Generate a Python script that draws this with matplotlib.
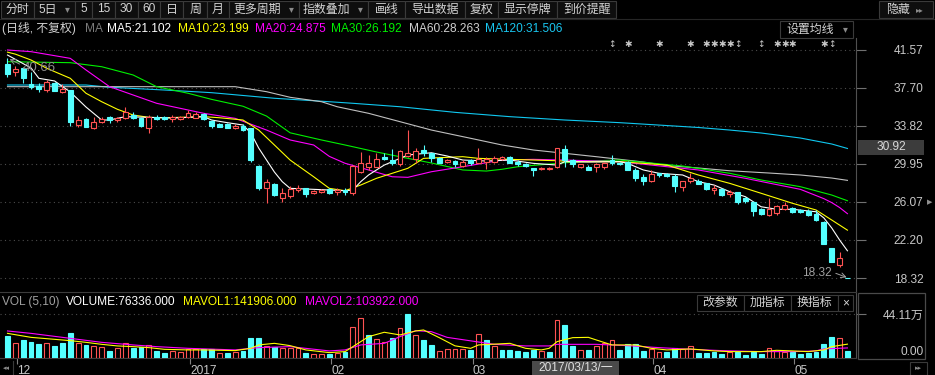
import numpy as np
import matplotlib
matplotlib.use("Agg")
import matplotlib.pyplot as plt
import matplotlib.transforms as mtrans
from matplotlib.patches import Rectangle

plt.rcParams['font.family'] = ['Liberation Sans', 'Noto Sans CJK SC', 'DejaVu Sans']

# ---------------- daily candles, 2016-11-30 .. 2017-05-11 ----------------
opens = [40.10, 39.30, 39.65, 38.03, 37.89, 37.45, 38.13, 37.28, 37.45, 33.92,
         34.47, 33.62, 34.23, 34.74, 34.40, 34.56, 34.96, 34.65, 33.56, 34.74,
         34.67, 34.50, 34.50, 34.74, 34.63, 34.97, 34.33, 33.96, 33.96, 33.55,
         33.82, 33.55, 29.72, 27.45, 27.89, 26.43, 26.70, 27.28, 27.45, 26.97,
         27.10, 27.35, 27.07, 27.30, 26.97, 29.14, 29.65, 29.65, 30.60, 30.33,
         29.89, 30.74, 30.40, 31.35, 31.01, 30.57, 30.13, 30.23, 29.72, 30.33,
         30.06, 30.16, 30.16, 30.45, 30.60, 30.16, 29.92, 29.55, 29.38, 29.38,
         29.65, 31.42, 30.33, 29.65, 29.65, 29.65, 29.65, 30.33, 30.00, 30.16,
         29.30, 28.63, 28.20, 29.00, 28.95, 28.70, 27.62, 28.22, 28.20, 27.96,
         27.28, 27.38, 26.84, 27.04, 26.50, 26.09, 25.32, 24.74, 24.97, 25.40,
         25.48, 25.25, 25.14, 24.80, 24.06, 21.40, 19.65, 18.32]
highs = [40.66, 39.89, 39.82, 39.28, 38.13, 38.47, 38.30, 38.03, 37.50, 34.81,
         34.60, 34.74, 34.70, 34.80, 34.74, 35.77, 35.24, 34.74, 34.90, 34.90,
         34.80, 34.90, 34.80, 35.42, 35.24, 35.15, 34.40, 34.10, 34.06, 33.96,
         33.96, 33.60, 29.80, 28.37, 27.96, 27.50, 27.65, 27.75, 27.50, 27.30,
         27.38, 27.45, 27.45, 27.45, 29.82, 31.17, 30.84, 31.00, 31.00, 31.42,
         31.40, 33.38, 31.60, 31.86, 31.07, 30.60, 30.40, 30.33, 30.33, 30.40,
         31.60, 30.67, 30.74, 30.70, 30.74, 30.33, 30.00, 29.55, 29.65, 29.65,
         31.52, 31.86, 30.40, 29.96, 29.80, 29.99, 30.16, 30.84, 30.10, 30.20,
         29.48, 28.90, 29.30, 29.05, 29.05, 28.90, 28.20, 28.97, 28.40, 28.00,
         27.80, 27.45, 27.28, 27.10, 26.60, 26.16, 25.50, 26.50, 25.80, 26.09,
         25.55, 25.30, 25.40, 25.25, 24.10, 21.40, 20.95, 18.32]
lows = [38.80, 38.90, 38.20, 37.55, 37.20, 37.22, 37.30, 37.11, 33.80, 33.66,
        33.72, 33.48, 34.06, 34.06, 34.23, 34.50, 34.50, 33.74, 33.11, 34.37,
        34.37, 34.23, 34.40, 34.57, 34.57, 34.37, 33.62, 33.65, 33.55, 33.50,
        33.30, 30.16, 27.28, 25.93, 26.70, 26.09, 26.50, 27.10, 26.60, 26.90,
        27.00, 26.87, 26.77, 26.77, 26.77, 29.04, 29.30, 29.60, 30.33, 29.82,
        29.72, 30.67, 30.00, 30.74, 30.16, 29.99, 29.99, 29.65, 29.65, 29.82,
        29.99, 29.40, 29.99, 30.30, 29.99, 29.72, 29.65, 28.70, 29.30, 29.30,
        29.55, 29.65, 29.60, 29.55, 29.30, 29.14, 29.40, 29.82, 29.80, 29.30,
        28.22, 27.80, 28.07, 28.65, 28.65, 27.10, 27.20, 27.96, 27.85, 27.30,
        26.84, 26.67, 26.60, 25.83, 26.00, 24.64, 24.77, 24.67, 24.77, 25.25,
        24.90, 24.90, 24.64, 24.13, 21.81, 20.00, 19.50, 18.32]
closes = [39.08, 39.60, 38.64, 37.73, 37.55, 38.23, 37.38, 37.52, 34.23, 34.40,
          33.72, 34.23, 34.47, 34.40, 34.63, 35.24, 34.65, 33.82, 34.67, 34.50,
          34.47, 34.70, 34.74, 35.08, 35.04, 34.47, 33.79, 33.72, 33.62, 33.82,
          33.38, 30.33, 27.45, 28.12, 26.77, 27.00, 27.38, 27.45, 26.87, 27.18,
          27.28, 26.94, 27.28, 27.10, 29.75, 29.99, 29.99, 30.40, 30.40, 29.99,
          31.25, 31.01, 31.28, 31.01, 30.50, 30.06, 30.33, 29.89, 30.16, 29.99,
          30.40, 30.40, 30.57, 30.60, 30.06, 29.89, 29.75, 29.30, 29.55, 29.55,
          31.52, 30.33, 29.92, 29.89, 29.30, 29.89, 29.99, 29.99, 29.92, 29.35,
          28.50, 28.20, 28.90, 28.80, 28.75, 27.68, 28.20, 28.46, 27.92, 27.38,
          27.45, 26.77, 27.04, 26.09, 26.16, 25.14, 24.84, 25.32, 25.65, 25.73,
          25.07, 25.00, 24.74, 24.23, 21.81, 20.00, 20.36, 18.32]

# volume in thousand shares, and bar colour (r = up, c = down)
volumes_k = [227, 150, 184, 167, 144, 157, 124, 150, 257, 157,
             134, 124, 110, 77, 100, 157, 100, 110, 134, 77,
             57, 77, 67, 94, 94, 90, 90, 57, 57, 67,
             77, 207, 200, 124, 110, 100, 100, 100, 57, 43,
             43, 40, 57, 67, 311, 401, 234, 194, 160, 200,
             301, 441.1, 234, 184, 134, 77, 90, 94, 90, 84,
             241, 184, 124, 84, 84, 74, 60, 84, 77, 67,
             384, 334, 124, 84, 84, 124, 157, 184, 84, 140,
             140, 74, 94, 60, 60, 107, 90, 124, 50, 50,
             67, 43, 67, 67, 33, 60, 43, 100, 77, 67,
             67, 43, 57, 67, 140, 217, 200, 76.336]
vol_dir = ("crcccrcccr" "crrcrrccrc" "crrrrccrcr" "cccrcrrrcr" "rcrcrrcrrc"
           "rcrccrrrrc" "rcrcccccrc" "rccrcrrrcc" "ccrrccrrcc" "ccrccccrrr" "ccccccrc")

# moving averages (bar index, value)
ma5_idx = [0, 3, 4, 6, 8, 10, 12, 13, 15, 18, 21, 25, 26, 28, 30, 31, 32, 33, 34, 35, 36, 39, 43, 44,
           45, 46, 47, 48, 49, 51, 54, 56, 58, 61, 64, 67, 70, 71, 74, 78, 79, 81, 83, 86, 88, 90,
           92, 94, 96, 98, 100, 103, 104, 105, 106, 107]
ma5_val = [41.01, 39.69, 38.64, 38.37, 37.25, 35.72, 34.40, 34.40, 34.74, 34.67, 34.60, 34.74, 34.40,
           34.13, 33.89, 33.08, 31.55, 30.33, 29.11, 28.13, 27.45, 27.35, 27.21, 27.28, 28.13, 28.81,
           29.32, 29.82, 30.16, 30.84, 31.07, 30.74, 30.33, 30.23, 30.33, 29.99, 29.82, 30.16, 30.13,
           30.16, 29.99, 29.32, 28.98, 28.81, 28.13, 27.79, 27.11, 26.60, 25.58, 25.32, 25.32, 25.07,
           24.44, 23.42, 22.20, 21.102]
ma10_idx = [0, 1, 3, 5, 8, 10, 12, 14, 16, 18, 20, 25, 27, 30, 32, 34, 36, 39, 41, 43, 45, 47, 49, 51,
            53, 58, 60, 64, 67, 70, 72, 78, 84, 88, 92, 96, 100, 103, 105, 107]
ma10_val = [41.30, 41.10, 40.50, 39.66, 38.64, 37.12, 36.26, 35.49, 34.91, 34.67, 34.63, 34.74, 34.63,
            34.40, 33.38, 31.86, 30.33, 28.63, 27.45, 27.21, 27.79, 28.47, 28.98, 29.49, 30.50, 30.67,
            30.50, 30.40, 30.33, 30.26, 30.16, 30.16, 29.82, 28.81, 27.96, 26.95, 25.93, 25.25, 24.23,
            23.199]
ma20_idx = [0, 3, 8, 10, 13, 19, 25, 29, 33, 36, 39, 41, 43, 46, 49, 51, 54, 58, 63, 67, 71, 78, 84,
            88, 94, 101, 104, 105, 106, 107]
ma20_val = [41.52, 41.35, 40.67, 39.49, 37.79, 36.10, 35.08, 34.57, 33.38, 32.37, 31.86, 30.70, 30.00,
            29.32, 28.63, 28.57, 29.14, 29.65, 30.33, 30.40, 30.33, 30.16, 29.65, 29.32, 28.47, 27.35,
            26.40, 26.00, 25.50, 24.875]
ma30_idx = [0, 8, 12, 16, 19, 23, 26, 30, 33, 36, 40, 43, 47, 51, 54, 58, 61, 63, 65, 70, 74, 78, 86,
            92, 96, 101, 105, 107]
ma30_val = [40.33, 40.23, 39.82, 38.98, 37.79, 37.12, 36.50, 35.80, 34.80, 33.10, 32.37, 31.86, 31.15,
            30.50, 30.03, 29.32, 29.21, 29.39, 29.65, 29.99, 30.23, 30.33, 29.72, 28.98, 28.30, 27.62,
            26.77, 26.192]
ma60_idx = [0, 29, 33, 36, 40, 42, 46, 50, 54, 59, 63, 67, 71, 75, 81, 84, 88, 92, 97, 101, 105, 107]
ma60_val = [37.79, 37.79, 37.28, 36.71, 36.26, 35.75, 35.08, 34.23, 33.38, 32.54, 31.86, 31.35, 31.01,
            30.67, 30.13, 29.77, 29.52, 29.24, 29.01, 28.81, 28.50, 28.263]
ma120_idx = [0, 10, 13, 20, 26, 34, 41, 44, 50, 57, 64, 71, 78, 88, 92, 96, 101, 105, 107]
ma120_val = [37.96, 37.96, 37.73, 37.45, 37.18, 36.61, 36.26, 36.10, 35.75, 35.18, 34.74, 34.40, 34.13,
             33.64, 33.38, 33.08, 32.57, 31.96, 31.506]

mavol1_idx = [0, 3, 8, 10, 12, 14, 16, 18, 20, 23, 25, 29, 31, 32, 34, 36, 38, 41, 43, 44, 46, 48, 50,
              52, 53, 55, 57, 59, 60, 64, 66, 68, 69, 70, 72, 74, 75, 77, 80, 82, 84, 87, 90, 92, 96,
              98, 100, 102, 104, 105, 107]
mavol1_val = [250, 210, 177, 160, 140, 124, 117, 107, 90, 84, 84, 77, 100, 134, 150, 127, 84, 57, 67,
              117, 217, 261, 234, 274, 284, 207, 125, 100, 134, 150, 100, 84, 100, 167, 207, 210, 184,
              134, 134, 100, 84, 94, 74, 67, 67, 80, 74, 67, 84, 117, 141.906]
mavol2_idx = [0, 3, 8, 12, 16, 19, 23, 29, 32, 36, 41, 43, 45, 48, 50, 52, 54, 56, 59, 62, 66, 69, 70,
              75, 79, 83, 87, 91, 96, 100, 103, 104, 107]
mavol2_val = [274, 250, 200, 160, 134, 117, 100, 84, 107, 117, 74, 84, 134, 150, 217, 277, 267, 210,
              175, 140, 124, 124, 140, 140, 127, 107, 90, 77, 67, 67, 74, 94, 103.922]

price_ticks = [41.57, 37.70, 33.82, 29.95, 26.07, 22.20, 18.32]
vol_tick = 441100
month_idx = [1, 23, 41, 59, 82, 100]
month_labels = ["12", "2017", "02", "03", "04", "05"]
# news markers: s = star, v = arrow
info_idx = [77, 79, 83, 87, 89, 90, 91, 92, 93, 96, 98, 99, 100, 104, 105]
info_kind = "vsssssssvvssssv"
high_i, low_i = 0, 107

# ---------------- style ----------------
RED = "#ff5252"
CYAN = "#54ffff"
GRID = "#4c4c4c"
TXT = "#c8c8c8"
FS = 8.6
W, H = 935, 375

fig = plt.figure(figsize=(W / 100, H / 100), dpi=100, facecolor="black")


def box(x0, y0, x1, y1):
    return [x0 / W, 1 - y1 / H, (x1 - x0) / W, (y1 - y0) / H]


n = len(closes)
xs = np.arange(n)
o = np.array(opens); c = np.array(closes); h = np.array(highs); l = np.array(lows)
prev = np.r_[c[0], c[:-1]]
up = (c > o) | ((c == o) & (c >= prev))
x_lo, x_hi = -0.955, 108.09
bw = 0.62

# ---------------- price panel ----------------
ax = fig.add_axes(box(0, 38, 856, 292))
ax.set_facecolor("black")
ax.set_xlim(x_lo, x_hi)
ax.set_ylim(16.91, 42.74)
ax.set_yticks(price_ticks)
ax.set_yticklabels(["%.2f" % v for v in price_ticks])
ax.yaxis.tick_right()
ax.tick_params(axis="y", length=7, width=0.8, color="#707070", labelcolor=TXT,
               labelsize=FS, pad=41.5)
plt.setp(ax.get_yticklabels(), ha="right")
ax.tick_params(axis="x", bottom=False, labelbottom=False)
ax.grid(axis="y", color=GRID, linestyle=(0, (1, 3)), linewidth=0.8)
ax.set_axisbelow(True)
for name, sp in ax.spines.items():
    sp.set_visible(name == "right")
ax.spines["right"].set_color("#505050")

# moving averages
ax.plot(ma120_idx, ma120_val, color="#10c8f0", lw=0.8)
ax.plot(ma60_idx, ma60_val, color="#c0c0c0", lw=0.8)
ax.plot(ma30_idx, ma30_val, color="#00f000", lw=0.8)
ax.plot(ma20_idx, ma20_val, color="#ff00ff", lw=0.8)
ax.plot(ma10_idx, ma10_val, color="#ffff00", lw=0.8)
ax.plot(ma5_idx, ma5_val, color="#ffffff", lw=0.8)

# candles
top = np.maximum(o, c); bot = np.minimum(o, c)
ax.vlines(xs[up], top[up], h[up], color=RED, lw=0.8, zorder=3)
ax.vlines(xs[up], l[up], bot[up], color=RED, lw=0.8, zorder=3)
ax.bar(xs[up], (c - o)[up], bottom=o[up], width=bw, facecolor="black",
       edgecolor=RED, linewidth=0.8, zorder=3)
dn = ~up
ax.vlines(xs[dn], l[dn], h[dn], color=CYAN, lw=0.8, zorder=3)
ax.bar(xs[dn], (o - c)[dn], bottom=c[dn], width=bw, facecolor=CYAN,
       edgecolor=CYAN, linewidth=0.8, zorder=3)

# highest / lowest markers
ax.annotate("%.2f" % highs[high_i], xy=(high_i + 0.1, highs[high_i]), xytext=(1.9, 39.7),
            color="#8c8c8c", fontsize=9.5, va="center", ha="left",
            arrowprops=dict(arrowstyle="->", color="#8c8c8c", lw=0.7, shrinkA=0, shrinkB=1,
                            relpos=(0, 0.7)))
ax.annotate("%.2f" % lows[low_i], xy=(low_i - 0.1, lows[low_i] + 0.08), xytext=(105.0, 18.84),
            color="#a0a0a0", fontsize=FS, va="center", ha="right",
            arrowprops=dict(arrowstyle="->", color="#a0a0a0", lw=0.7, shrinkA=1, shrinkB=0,
                            relpos=(1, 0.6)))

# info markers
tr = mtrans.blended_transform_factory(ax.transData, ax.transAxes)
for i, k in zip(info_idx, info_kind):
    ax.text(i, 0.975, "✱" if k == "s" else "↕", transform=tr, ha="center", va="center",
            color="#c8c8c8", fontsize=6.5, family="DejaVu Sans")

# ---------------- volume panel ----------------
axv = fig.add_axes(box(0, 292, 856, 358.3))
axv.set_facecolor("black")
axv.set_xlim(x_lo, x_hi)
axv.set_ylim(0, 664700)
vol = np.array(volumes_k) * 1000
vup = np.array([d == "r" for d in vol_dir])
axv.bar(xs[vup], vol[vup], width=bw, facecolor="black", edgecolor=RED, linewidth=0.8, zorder=3)
axv.bar(xs[~vup], vol[~vup], width=bw, facecolor=CYAN, edgecolor=CYAN, linewidth=0.8, zorder=3)
axv.plot(mavol2_idx, np.array(mavol2_val) * 1000, color="#ff00ff", lw=0.8, zorder=4)
axv.plot(mavol1_idx, np.array(mavol1_val) * 1000, color="#ffff00", lw=0.8, zorder=4)

axv.set_yticks([0, vol_tick])
axv.set_yticklabels(["0.00", "%.2f万" % (vol_tick / 10000)])
axv.yaxis.tick_right()
axv.tick_params(axis="y", length=7, width=0.8, color="#707070", labelcolor=TXT,
                labelsize=FS, pad=41.5)
plt.setp(axv.get_yticklabels(), ha="right")
axv.get_yticklabels()[0].set_va("bottom")
axv.yaxis.get_major_ticks()[0].tick2line.set_visible(False)
axv.grid(axis="y", color=GRID, linestyle=(0, (1, 3)), linewidth=0.8)
axv.set_axisbelow(True)

axv.set_xticks([m + 0.25 for m in month_idx])
axv.set_xticklabels(month_labels)
axv.tick_params(axis="x", length=4, width=0.8, color="#808080", labelcolor=TXT,
                labelsize=FS, pad=0.5)
plt.setp(axv.get_xticklabels(), ha="left")
for name, sp in axv.spines.items():
    sp.set_visible(name in ("top", "right", "bottom"))
    sp.set_color("#3c3c3c")
axv.spines["right"].set_color("#505050")

# ---------------- chrome (toolbar, legends) ----------------
ui = fig.add_axes([0, 0, 1, 1])
ui.set_xlim(0, W)
ui.set_ylim(H, 0)
ui.axis("off")
ui.patch.set_alpha(0)

buttons = [("分时", 1, 34), ("5日", 34, 75), ("5", 75, 92), ("15", 92, 115), ("30", 115, 138),
           ("60", 138, 160), ("日", 160, 183), ("周", 183, 207), ("月", 207, 229),
           ("更多周期", 229, 299), ("指数叠加", 299, 368), ("画线", 368, 405),
           ("导出数据", 405, 465), ("复权", 465, 498), ("显示停牌", 498, 557), ("到价提醒", 557, 616)]
drop = ("5日", "更多周期", "指数叠加")
for lab, x0, x1 in buttons:
    ui.add_patch(Rectangle((x0, 1), x1 - x0, 16.5, facecolor="#0e0e0e", edgecolor="#3a3a3a", lw=0.8))
    if lab in drop:
        ui.text((x0 + x1 - 14) / 2, 9.5, lab, color="#d4d4d4", fontsize=FS, ha="center", va="center")
        ui.text(x1 - 8, 9.5, "▾", color="#8a8a8a", fontsize=7, ha="center", va="center",
                family="DejaVu Sans")
    else:
        ui.text((x0 + x1) / 2, 9.5, lab, color="#d4d4d4", fontsize=FS, ha="center", va="center")
ui.add_patch(Rectangle((879, 1), 54, 16.5, facecolor="#0e0e0e", edgecolor="#3a3a3a", lw=0.8))
ui.text(898, 9.5, "隐藏", color="#d4d4d4", fontsize=FS, ha="center", va="center")
ui.text(920, 9.5, "▸▸", color="#8a8a8a", fontsize=5.5, ha="center", va="center", family="DejaVu Sans")
ui.plot([0, W], [19, 19], color="#262626", lw=0.8)

legend = [("(日线, 不复权)", 2, "#d0d0d0"), ("MA", 85, "#7a7a7a"),
          ("MA5:%.3f" % ma5_val[-1], 107, "#ffffff"), ("MA10:%.3f" % ma10_val[-1], 178, "#ffff00"),
          ("MA20:%.3f" % ma20_val[-1], 255, "#ff00ff"), ("MA30:%.3f" % ma30_val[-1], 331, "#00f000"),
          ("MA60:%.3f" % ma60_val[-1], 409, "#d0d0d0"), ("MA120:%.3f" % ma120_val[-1], 485, "#19c6f0")]
for lab, x0, col in legend:
    ui.text(x0, 28.5, lab, color=col, fontsize=FS, ha="left", va="center")
ui.add_patch(Rectangle((780, 21), 73, 17, facecolor="black", edgecolor="#3a3a3a", lw=0.8))
ui.text(786, 29.5, "设置均线", color="#d4d4d4", fontsize=FS, ha="left", va="center")
ui.text(845, 29.5, "▾", color="#8a8a8a", fontsize=7, ha="center", va="center", family="DejaVu Sans")

# current price box and side marker
ui.add_patch(Rectangle((858, 139.5), 66, 15.5, facecolor="#3c3c3c", edgecolor="none"))
ui.text(891, 147.5, "30.92", color="#d8d8d8", fontsize=FS, ha="center", va="center")
ui.text(930, 202, "▶", color="#909090", fontsize=5, ha="center", va="center", family="DejaVu Sans")

# volume header
vhead = [("VOL (5,10)", 2, "#a0a0a0"), ("VOLUME:%.3f" % (volumes_k[-1] * 1000), 66, "#ffffff"),
         ("MAVOL1:%.3f" % (mavol1_val[-1] * 1000), 183, "#ffff00"),
         ("MAVOL2:%.3f" % (mavol2_val[-1] * 1000), 305, "#ff00ff")]
for lab, x0, col in vhead:
    ui.text(x0, 302, lab, color=col, fontsize=FS, ha="left", va="center")
for lab, x0, x1 in [("改参数", 697, 744), ("加指标", 744, 791), ("换指标", 791, 838), ("×", 838, 853)]:
    ui.add_patch(Rectangle((x0, 295), x1 - x0, 16, facecolor="black", edgecolor="#3a3a3a", lw=0.8))
    ui.text((x0 + x1) / 2, 303, lab, color="#d4d4d4", fontsize=FS, ha="center", va="center")
ui.add_patch(Rectangle((858, 293), 67, 66, facecolor="none", edgecolor="#4a4a4a", lw=0.9))

# bottom strip
ui.text(6, 368, "◂◂", color="#8a8a8a", fontsize=5, ha="center", va="center", family="DejaVu Sans")
ui.plot([13, 13], [361, 375], color="#3a3a3a", lw=0.8)
ui.add_patch(Rectangle((910, 362), 17, 13, facecolor="black", edgecolor="#3a3a3a", lw=0.8))
ui.text(918.5, 368.5, "▸▸", color="#8a8a8a", fontsize=5, ha="center", va="center", family="DejaVu Sans")
ui.add_patch(Rectangle((532, 361), 87, 14, facecolor="#4a4a4a", edgecolor="none"))
ui.text(575.5, 368, "2017/03/13/一", color="#e0e0e0", fontsize=FS, ha="center", va="center")

fig.savefig("out.png", dpi=100, facecolor="black")
